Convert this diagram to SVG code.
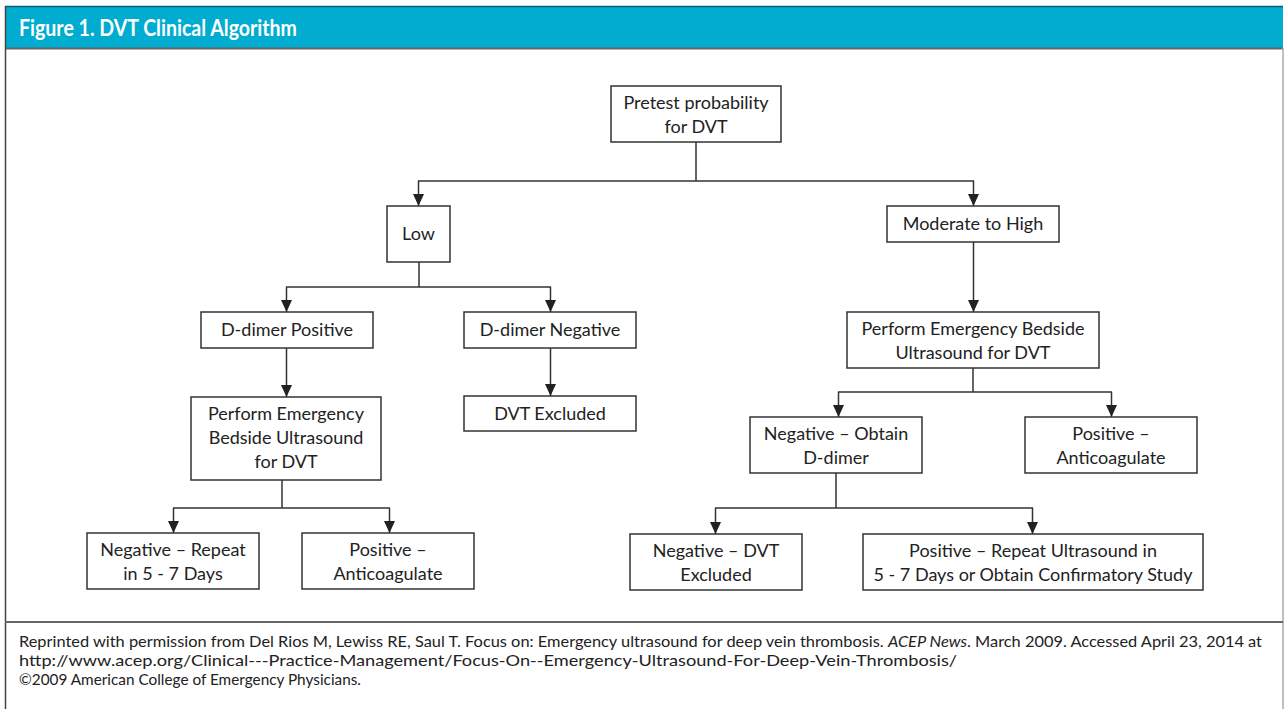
<svg xmlns="http://www.w3.org/2000/svg" width="1284" height="709" viewBox="0 0 1284 709">
<style>
.box{fill:#fff;stroke:#333;stroke-width:1.5}
.t{font-family:Lato,"Open Sans",sans-serif;font-size:18px;fill:#222;text-anchor:middle}
.ln{fill:none;stroke:#333;stroke-width:1.5}
.ft{font-family:Lato,"Open Sans",sans-serif;font-size:15px;fill:#222}
</style>
<defs>
<marker id="ah" markerUnits="userSpaceOnUse" markerWidth="12" markerHeight="12" viewBox="0 0 12 12" refX="12" refY="6" orient="auto">
<path d="M0,0.5 L12,6 L0,11.5 z" fill="#222"/>
</marker>
</defs>
<rect x="0" y="0" width="1284" height="709" fill="#fff"/>
<g id="frame">
<rect x="5" y="6" width="1278" height="42" fill="#00acd0"/>
<line x1="5" y1="6.5" x2="1283" y2="6.5" stroke="#0a5f73" stroke-width="1.5"/>
<line x1="5" y1="48.5" x2="1283" y2="48.5" stroke="#666" stroke-width="2"/>
<line x1="5.5" y1="6" x2="5.5" y2="709" stroke="#444" stroke-width="1.5"/>
<line x1="1283" y1="48" x2="1283" y2="709" stroke="#aaa" stroke-width="1.5"/>
<line x1="5" y1="622" x2="1283" y2="622" stroke="#666" stroke-width="2"/>
<text x="19" y="36" font-family="Lato,'Open Sans',sans-serif" font-size="22" font-weight="bold" fill="#fff" textLength="278" lengthAdjust="spacingAndGlyphs">Figure 1. DVT Clinical Algorithm</text>
</g>
<g id="connectors">
<path class="ln" d="M696,142 V181 M418,181 H974"/>
<path class="ln" d="M418.5,181 V206" marker-end="url(#ah)"/>
<path class="ln" d="M973.5,181 V206" marker-end="url(#ah)"/>
<path class="ln" d="M973.5,242 V312" marker-end="url(#ah)"/>
<path class="ln" d="M419,262 V287 M286,287 H551"/>
<path class="ln" d="M286.5,287 V312" marker-end="url(#ah)"/>
<path class="ln" d="M550.5,287 V312" marker-end="url(#ah)"/>
<path class="ln" d="M286.5,348 V397" marker-end="url(#ah)"/>
<path class="ln" d="M550.5,348 V396" marker-end="url(#ah)"/>
<path class="ln" d="M282,480 V508 M173,508 H390"/>
<path class="ln" d="M173.5,508 V533" marker-end="url(#ah)"/>
<path class="ln" d="M389.5,508 V533" marker-end="url(#ah)"/>
<path class="ln" d="M973,368 V392 M838,392 H1112"/>
<path class="ln" d="M838.5,392 V417" marker-end="url(#ah)"/>
<path class="ln" d="M1111.5,392 V417" marker-end="url(#ah)"/>
<path class="ln" d="M836,473 V508 M715,508 H1033"/>
<path class="ln" d="M715.5,508 V534" marker-end="url(#ah)"/>
<path class="ln" d="M1032.5,508 V534" marker-end="url(#ah)"/>
</g>
<g id="pretest"><rect class="box" x="611" y="86" width="170" height="56"/><text class="t" x="696" y="109">Pretest probability</text><text class="t" x="696" y="133">for DVT</text></g>
<g id="low"><rect class="box" x="387" y="206" width="63" height="56"/><text class="t" x="418.5" y="240">Low</text></g>
<g id="modhigh"><rect class="box" x="887" y="206" width="172" height="36"/><text class="t" x="973" y="230">Moderate to High</text></g>
<g id="ddpos"><rect class="box" x="201" y="312" width="172" height="36"/><text class="t" x="287" y="336">D-dimer Positive</text></g>
<g id="ddneg"><rect class="box" x="464" y="312" width="172" height="36"/><text class="t" x="550" y="336">D-dimer Negative</text></g>
<g id="perf1"><rect class="box" x="191" y="397" width="190" height="83"/><text class="t" x="286" y="420">Perform Emergency</text><text class="t" x="286" y="444">Bedside Ultrasound</text><text class="t" x="286" y="468">for DVT</text></g>
<g id="dvtex"><rect class="box" x="464" y="396" width="172" height="35"/><text class="t" x="550" y="420">DVT Excluded</text></g>
<g id="perf2"><rect class="box" x="847" y="312" width="252" height="56"/><text class="t" x="973" y="335">Perform Emergency Bedside</text><text class="t" x="973" y="359">Ultrasound for DVT</text></g>
<g id="negrep"><rect class="box" x="87" y="533" width="172" height="56"/><text class="t" x="173" y="556">Negative – Repeat</text><text class="t" x="173" y="580">in 5 - 7 Days</text></g>
<g id="posanti1"><rect class="box" x="302" y="533" width="172" height="56"/><text class="t" x="388" y="556">Positive –</text><text class="t" x="388" y="580">Anticoagulate</text></g>
<g id="negobt"><rect class="box" x="750" y="417" width="172" height="56"/><text class="t" x="836" y="440">Negative – Obtain</text><text class="t" x="836" y="464">D-dimer</text></g>
<g id="posanti2"><rect class="box" x="1025" y="417" width="172" height="56"/><text class="t" x="1111" y="440">Positive –</text><text class="t" x="1111" y="464">Anticoagulate</text></g>
<g id="negdvt"><rect class="box" x="630" y="534" width="172" height="56"/><text class="t" x="716" y="557">Negative – DVT</text><text class="t" x="716" y="581">Excluded</text></g>
<g id="posrep"><rect class="box" x="863" y="534" width="340" height="56"/><text class="t" x="1033" y="557">Positive – Repeat Ultrasound in</text><text class="t" x="1033" y="581">5 - 7 Days or Obtain Confirmatory Study</text></g>
<g id="footer">
<text class="ft" x="19" y="647" textLength="1243" lengthAdjust="spacingAndGlyphs">Reprinted with permission from Del Rios M, Lewiss RE, Saul T. Focus on: Emergency ultrasound for deep vein thrombosis. <tspan font-style="italic">ACEP News</tspan>. March 2009. Accessed April 23, 2014 at</text>
<text class="ft" x="19" y="666" textLength="938" lengthAdjust="spacingAndGlyphs">http://www.acep.org/Clinical---Practice-Management/Focus-On--Emergency-Ultrasound-For-Deep-Vein-Thrombosis/</text>
<text class="ft" x="19" y="685" textLength="342" lengthAdjust="spacingAndGlyphs">©2009 American College of Emergency Physicians.</text>
</g>
</svg>
